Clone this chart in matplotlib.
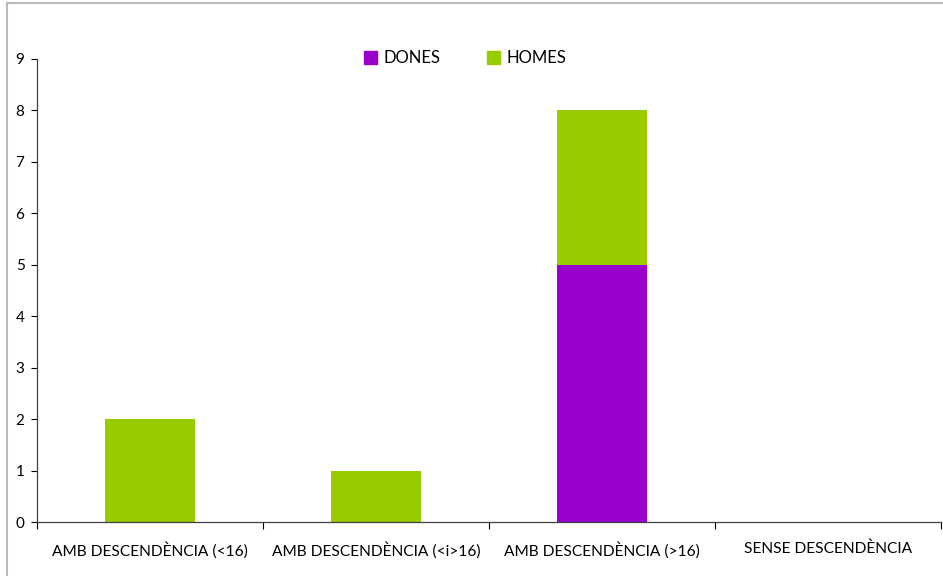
import matplotlib.pyplot as plt
from matplotlib.lines import Line2D
from matplotlib.patches import Patch
import numpy as np

categories = ["AMB DESCENDÈNCIA (<16)", "AMB DESCENDÈNCIA (<i>16)",
              "AMB DESCENDÈNCIA (>16)", "SENSE DESCENDÈNCIA"]
dones = [0, 0, 5, 0]
homes = [2, 1, 3, 0]

purple = "#9900CC"
green = "#99CC00"

plt.rcParams["font.family"] = ["Lato", "DejaVu Sans"]

fig = plt.figure(figsize=(9.43, 5.76), dpi=100)
W, H = 943, 576
ax = fig.add_axes([37 / W, 1 - 522 / H, (941 - 37) / W, (522 - 59) / H])

x = np.arange(len(categories))
width = 0.395
ax.bar(x, dones, width, color=purple, label="DONES")
ax.bar(x, homes, width, bottom=dones, color=green, label="HOMES")

ax.set_xlim(-0.5, len(categories) - 0.5)
ax.set_ylim(0, 9)
ax.set_yticks(range(10))
ax.tick_params(axis="y", direction="out", length=4, width=0.8, labelsize=11, pad=5)

# category labels centred, tick marks between categories
ax.set_xticks(x)
ax.set_xticklabels(categories, fontsize=11.2)
ax.tick_params(axis="x", which="major", length=0, pad=14)
ax.set_xticks(np.arange(-0.5, len(categories)), minor=True)
ax.tick_params(axis="x", which="minor", direction="out", length=5, width=0.8)

for side in ["top", "right"]:
    ax.spines[side].set_visible(False)
for side in ["left", "bottom"]:
    ax.spines[side].set_linewidth(0.9)
    ax.spines[side].set_color("#404040")

handles = [Patch(color=purple), Patch(color=green)]
fig.legend(handles, ["DONES", "HOMES"], loc="center", bbox_to_anchor=(465 / W, 1 - 58 / H),
           ncol=2, frameon=False, fontsize=12, handlelength=0.8, handleheight=0.8,
           handletextpad=0.35, columnspacing=2.8)

# outer chart frame
fig.add_artist(Line2D([7 / W, 7 / W], [0, 1 - 3 / H], color="#BBBBBB", lw=1.5))
fig.add_artist(Line2D([7 / W, 1], [1 - 3 / H, 1 - 3 / H], color="#BBBBBB", lw=1.5))

fig.savefig("out.png", dpi=100)
